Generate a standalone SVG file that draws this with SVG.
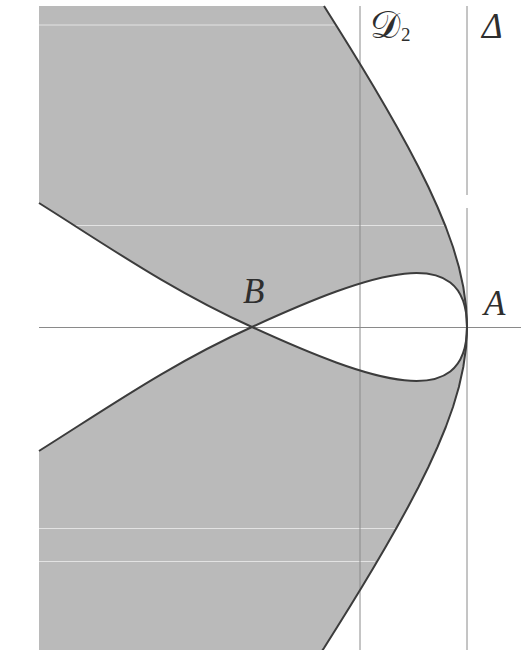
<svg xmlns="http://www.w3.org/2000/svg" width="524" height="650" viewBox="0 0 524 650">
<style>
.shade{fill:#bababa;stroke:none}
.axis{stroke:#8a8a8a;stroke-width:1;fill:none}
.curve{stroke:#3c3c3c;stroke-width:2;fill:none;stroke-linejoin:round}
.scan{stroke:#ffffff;stroke-width:1;opacity:0.6}
.lbl{font-family:"Liberation Serif","DejaVu Serif",serif;font-style:italic;fill:#2e2e2e;font-size:35px}
.sub{font-family:"Liberation Serif","DejaVu Serif",serif;fill:#2e2e2e;font-size:19px}
.scr{font-family:"DejaVu Serif","DejaVu Sans",serif;fill:#2e2e2e;font-size:38px}
</style>
<rect width="524" height="650" fill="#ffffff"/>
<g id="region">
<path class="shade" d="M39,6 L324,6 L337.2,27 L349.65,47 L361.9,67 L373.9,87 L385.6,107 L397,127 L408,147 L418.5,167 L428.4,187 L437.5,207 L445.8,227 L453,247 L458.9,267 L463.3,287 L466.1,307 L467,327 C467,240 372,272 252,327 C172,291 108,246.4 39,203 Z"/>
<path class="shade" d="M39,651 L322,651 L324,648 L337.2,627 L349.65,607 L361.9,587 L373.9,567 L385.6,547 L397,527 L408,507 L418.5,487 L428.4,467 L437.5,447 L445.8,427 L453,407 L458.9,387 L463.3,367 L466.1,347 L467,327 C467,414 372,382 252,327 C172,363 108,407.6 39,451 Z"/>
<line class="scan" x1="39" y1="25" x2="336" y2="25"/>
<line class="scan" x1="62" y1="225.5" x2="446" y2="225.5"/>
<line class="scan" x1="39" y1="528.5" x2="397" y2="528.5"/>
<line class="scan" x1="39" y1="561.5" x2="375" y2="561.5"/>
</g>
<g id="connectors">
<line class="axis" x1="39" y1="327.5" x2="521" y2="327.5"/>
<line class="axis" x1="360" y1="6" x2="360" y2="650"/>
<line class="axis" x1="467" y1="6" x2="467" y2="195"/>
<line class="axis" x1="467" y1="208" x2="467" y2="650"/>
<path class="curve" d="M324,6 L337.2,27 L349.65,47 L361.9,67 L373.9,87 L385.6,107 L397,127 L408,147 L418.5,167 L428.4,187 L437.5,207 L445.8,227 L453,247 L458.9,267 L463.3,287 L466.1,307 L467,327 L466.1,347 L463.3,367 L458.9,387 L453,407 L445.8,427 L437.5,447 L428.4,467 L418.5,487 L408,507 L397,527 L385.6,547 L373.9,567 L361.9,587 L349.65,607 L337.2,627 L324,648 L322,651"/>
<path class="curve" d="M39,203 C108,246.4 172,291 252,327 C372,382 467,414 467,327 C467,240 372,272 252,327 C172,363 108,407.6 39,451"/>
</g>
<g id="label-D2">
<text class="scr" x="370" y="38">𝒟</text>
<text class="sub" x="401" y="41">2</text>
</g>
<g id="label-Delta"><text class="lbl" x="482" y="38">Δ</text></g>
<g id="label-B"><text class="lbl" x="243" y="303">B</text></g>
<g id="label-A"><text class="lbl" x="484" y="315">A</text></g>
</svg>
